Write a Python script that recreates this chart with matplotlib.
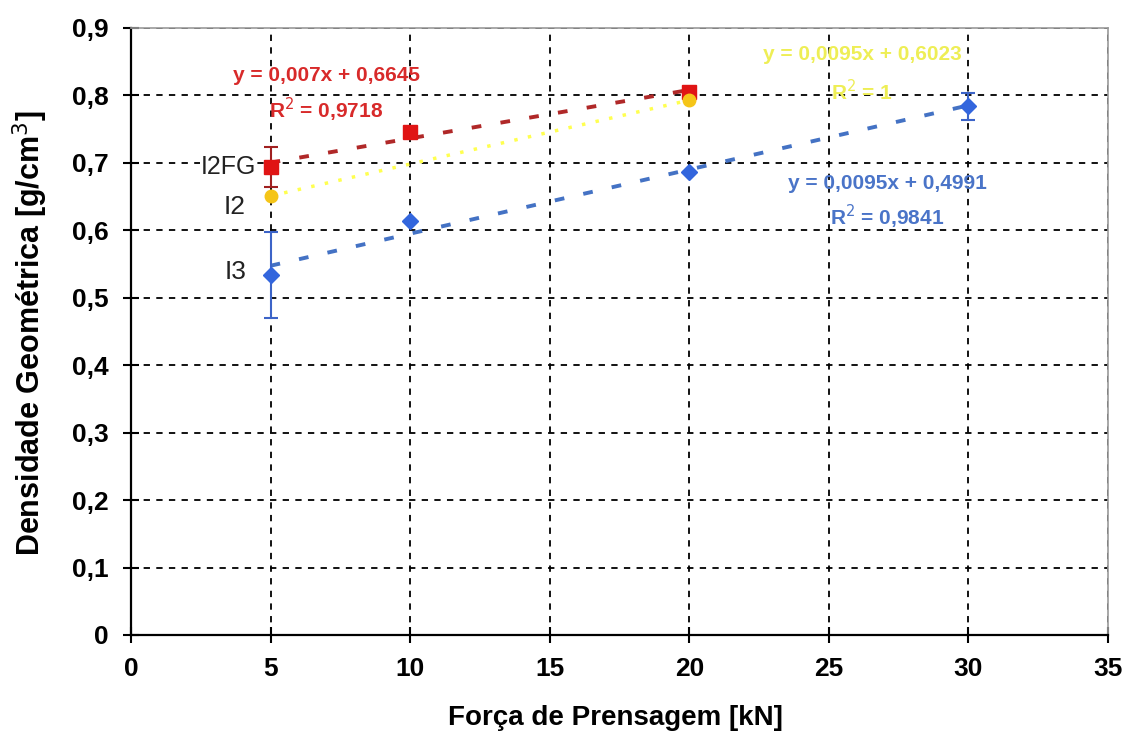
import numpy as np
import matplotlib
matplotlib.use("Agg")
import matplotlib.pyplot as plt
from matplotlib.ticker import FuncFormatter

plt.rcParams["font.family"] = ["Liberation Sans", "DejaVu Sans"]

# =========================================================
# DADOS
# =========================================================

forca_i2fg = [5, 10, 20]
dens_i2fg = [0.694, 0.746, 0.805]
erro_i2fg = [0.030, 0.0, 0.0]

forca_i2 = [5, 20]
dens_i2 = [0.651, 0.793]

forca_i3 = [5, 10, 20, 30]
dens_i3 = [0.534, 0.614, 0.686, 0.784]
erro_i3 = [0.064, 0.0, 0.0, 0.020]

eq_i2fg = ["y = 0,007x + 0,6645", "R$^2$ = 0,9718"]
eq_i2 = ["y = 0,0095x + 0,6023", "R$^2$ = 1"]
eq_i3 = ["y = 0,0095x + 0,4991", "R$^2$ = 0,9841"]

x_ticks = [0, 5, 10, 15, 20, 25, 30, 35]
y_ticks = [0, 0.1, 0.2, 0.3, 0.4, 0.5, 0.6, 0.7, 0.8, 0.9]

# =========================================================
# FIGURA
# =========================================================

fig = plt.figure(figsize=(11.3, 7.33), dpi=100)
ax = fig.add_axes([131 / 1130, 1 - 635 / 733, 977 / 1130, 607 / 733])

ax.set_xlim(0, 35)
ax.set_ylim(0, 0.9)

ax.grid(True, color="black", linestyle=(0, (3.5, 3.5)), linewidth=1.3)
ax.set_axisbelow(True)


def linha_tendencia(xs, ys, cor, estilo, lw):
    a, b = np.polyfit(xs, ys, 1)
    xx = np.array([min(xs), max(xs)])
    ax.plot(xx, a * xx + b, color=cor, linestyle=estilo, linewidth=lw, zorder=2)


linha_tendencia(forca_i2fg, dens_i2fg, "#B02828", (0, (2.5, 5)), 2.8)
linha_tendencia(forca_i2, dens_i2, "#FFFF50", (0, (1, 3)), 2.5)
linha_tendencia(forca_i3, dens_i3, "#4472C4", (0, (2.5, 5)), 2.8)

ax.errorbar(
    forca_i3, dens_i3, yerr=erro_i3,
    fmt="D", color="#3366DD", ecolor="#3C64C8",
    markersize=8, elinewidth=1.5, capsize=5, capthick=1.5, zorder=3
)
ax.errorbar(
    forca_i2fg, dens_i2fg, yerr=erro_i2fg,
    fmt="s", color="#E01414", ecolor="#A02020",
    markersize=10, elinewidth=1.5, capsize=5, capthick=1.5, zorder=4
)
ax.plot(
    forca_i2, dens_i2, "o",
    color="#F5C518", markersize=9, zorder=5
)

# =========================================================
# TEXTOS
# =========================================================

ax.text(7.0, 0.830, eq_i2fg[0], color="#D82A2A", fontsize=15,
        fontweight="bold", ha="center", va="center")
ax.text(7.0, 0.778, eq_i2fg[1], color="#D82A2A", fontsize=15,
        fontweight="bold", ha="center", va="center")

ax.text(26.2, 0.860, eq_i2[0], color="#EEEE55", fontsize=15,
        fontweight="bold", ha="center", va="center")
ax.text(26.2, 0.805, eq_i2[1], color="#EEEE55", fontsize=15,
        fontweight="bold", ha="center", va="center")

ax.text(27.1, 0.670, eq_i3[0], color="#4A74C8", fontsize=15,
        fontweight="bold", ha="center", va="center")
ax.text(27.1, 0.620, eq_i3[1], color="#4A74C8", fontsize=15,
        fontweight="bold", ha="center", va="center")

ax.text(4.5, 0.694, "I2FG", color="#222222", fontsize=18,
        ha="right", va="center",
        bbox=dict(facecolor="white", edgecolor="none", pad=0.5))
ax.text(4.1, 0.635, "I2", color="#222222", fontsize=19,
        ha="right", va="center")
ax.text(4.15, 0.538, "I3", color="#222222", fontsize=19,
        ha="right", va="center")

# =========================================================
# EIXOS
# =========================================================

ax.set_xticks(x_ticks)
ax.set_yticks(y_ticks)
ax.yaxis.set_major_formatter(
    FuncFormatter(lambda v, p: "0" if v == 0 else f"{v:.1f}".replace(".", ","))
)

for lbl in ax.get_xticklabels() + ax.get_yticklabels():
    lbl.set_fontweight("bold")

ax.tick_params(axis="both", direction="inout", length=12, width=1.5,
               labelsize=19, colors="black")
ax.tick_params(axis="x", pad=10)
ax.tick_params(axis="y", pad=10)

ax.spines["left"].set_linewidth(1.6)
ax.spines["bottom"].set_linewidth(1.6)
ax.spines["top"].set_color("#999999")
ax.spines["right"].set_color("#999999")
ax.spines["top"].set_linewidth(1.2)
ax.spines["right"].set_linewidth(1.2)

fig.text(615 / 1130, 1 - 718 / 733, "Força de Prensagem [kN]",
         fontsize=20, fontweight="bold", ha="center", va="center")
fig.text(30 / 1130, 1 - 333 / 733, "Densidade Geométrica [g/cm$^3$]",
         fontsize=22, fontweight="bold", ha="center", va="center",
         rotation=90)

fig.savefig("out.png", dpi=100, facecolor="white")
